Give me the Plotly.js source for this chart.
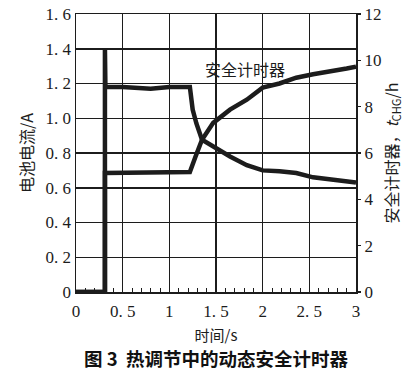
<!DOCTYPE html>
<html>
<head>
<meta charset="utf-8">
<script src="https://cdn.plot.ly/plotly-3.0.1.min.js"></script>
<style>html,body{margin:0;padding:0;background:#fff;}#chart{width:417px;height:376px;}</style>
</head>
<body>
<div id="chart"></div>
<script>
// Battery current (A), left axis
const timeCurrent = [0, 0.31, 0.31, 0.315, 0.5, 0.8, 1.0, 1.22, 1.25, 1.29, 1.35, 1.47, 1.65, 1.83, 2.0, 2.18, 2.36, 2.54, 2.72, 2.9, 3.0];
const current     = [0, 0,    1.40, 1.18,  1.18, 1.17, 1.18, 1.18, 1.05, 0.97, 0.876, 0.836, 0.78, 0.73, 0.70, 0.695, 0.685, 0.66, 0.65, 0.64, 0.63];
// Safety timer t_CHG (h), right axis
const timeTimer = [0, 0.31, 0.31, 0.6, 1.0, 1.22, 1.28, 1.35, 1.47, 1.65, 1.83, 2.0, 2.18, 2.36, 2.54, 2.72, 2.9, 3.0];
const timer     = [0, 0,    5.14, 5.14, 5.16, 5.18, 5.84, 6.57, 7.3, 7.87, 8.3, 8.82, 9.0, 9.25, 9.4, 9.51, 9.65, 9.73];

const xTicks = [0, 0.5, 1, 1.5, 2, 2.5, 3];
const xTickText = ["0", "0. 5", "1", "1. 5", "2", "2. 5", "3"];
const yTicks = [0, 0.2, 0.4, 0.6, 0.8, 1.0, 1.2, 1.4, 1.6];
const yTickText = ["0", "0. 2", "0. 4", "0. 6", "0. 8", "1. 0", "1. 2", "1. 4", "1. 6"];
const y2Ticks = [0, 2, 4, 6, 8, 10, 12];
const y2TickText = ["0", "2", "4", "6", "8", "10", "12"];

const serif = "Times New Roman, Liberation Serif, DejaVu Serif, serif";
const cjk = "Noto Sans CJK SC";
const ink = "#1c1c1c";

const traces = [
  {x: timeCurrent, y: current, type: "scatter", mode: "lines", name: "电池电流",
   line: {color: ink, width: 4.5}, yaxis: "y"},
  {x: timeTimer, y: timer, type: "scatter", mode: "lines", name: "安全计时器",
   line: {color: ink, width: 4.5}, yaxis: "y2"}
];

const layout = {
  width: 417, height: 376,
  margin: {l: 76, r: 61, t: 14, b: 84},
  paper_bgcolor: "#fff", plot_bgcolor: "#fff",
  showlegend: false,
  font: {family: serif, color: ink, size: 17},
  xaxis: {
    range: [0, 3], tickvals: xTicks, ticktext: xTickText,
    showgrid: true, gridcolor: ink, gridwidth: 1.5,
    zeroline: false, showline: true, linecolor: ink, linewidth: 1.5, mirror: true,
    ticks: "inside", ticklen: 5, tickcolor: ink,
    minor: {dtick: 0.1, ticks: "inside", ticklen: 4, tickcolor: ink, showgrid: false},
    tickfont: {family: serif, size: 17},
    ticklabelstandoff: 3,
    title: {text: "时间/s", font: {family: cjk, size: 15}, standoff: 10}
  },
  yaxis: {
    range: [0, 1.6], tickvals: yTicks, ticktext: yTickText,
    showgrid: true, gridcolor: ink, gridwidth: 1.5,
    zeroline: false, showline: true, linecolor: ink, linewidth: 1.5, mirror: true,
    ticks: "", tickfont: {family: serif, size: 17},
    title: {text: "电池电流/A", font: {family: cjk, size: 16}, standoff: 8}
  },
  yaxis2: {
    range: [0, 12], tickvals: y2Ticks, ticktext: y2TickText, overlaying: "y", side: "right",
    showgrid: false, zeroline: false, showline: false,
    ticks: "outside", ticklen: 4, tickcolor: ink, tickwidth: 1.5,
    tickfont: {family: serif, size: 17},
    title: {text: "安全计时器，<i>t</i><sub>CHG</sub>/h", font: {family: cjk, size: 16}, standoff: 6}
  },
  annotations: [
    {x: 1.81, y: 1.285, xref: "x", yref: "y", text: "安全计时器", showarrow: false,
     font: {family: cjk, size: 16, color: ink}},
    {x: 0.5, y: -0.293, xref: "paper", yref: "paper", text: "<b>图 3  热调节中的动态安全计时器</b>",
     showarrow: false, xanchor: "center", yanchor: "bottom",
     font: {family: cjk, size: 18.5, color: "#111"}}
  ]
};

Plotly.newPlot("chart", traces, layout, {displayModeBar: false, staticPlot: true});
</script>
</body>
</html>
